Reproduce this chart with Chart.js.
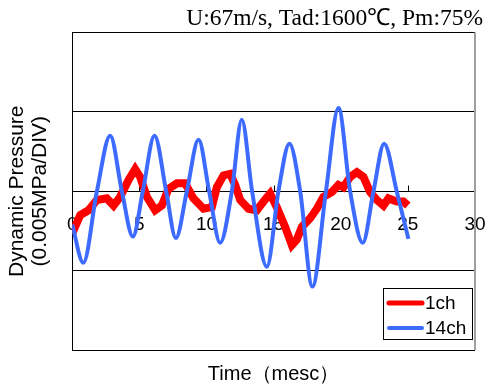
<!DOCTYPE html>
<html>
<head>
<meta charset="utf-8">
<script src="https://cdn.jsdelivr.net/npm/chart.js@4.4.1/dist/chart.umd.min.js"></script>
<style>
  body { margin: 0; background: #fff; }
  canvas { display: block; }
</style>
</head>
<body>
<canvas id="pressureChart" width="489" height="388"></canvas>
<script>
// ========== DATA (time in msec, pressure in DIV) ========== //
const chartTitle = "U:67m/s, Tad:1600\u2103, Pm:75%";
const xTitle = "Time\uFF08mesc\uFF09";
const yTitle = ["Dynamic Pressure", "(0.005MPa/DIV)"];
const seriesLabels = ["1ch", "14ch"];

const redTime = [0, 0.6, 1.21, 1.84, 2.58, 3.08, 3.57, 4.19, 4.69, 5.06, 5.56, 6.18, 6.68, 7.17, 7.8,
  8.41, 9.03, 9.78, 10.4, 10.77, 11.27, 11.76, 12.14, 12.51, 13.13, 13.75, 14.25, 14.74, 15.24,
  15.86, 16.36, 16.73, 17.1, 17.72, 18.22, 18.71, 19.34, 19.83, 20.2, 20.7, 21.2, 21.69, 22.19,
  22.69, 23.18, 23.55, 24.18, 24.67, 25.0];
const redValue = [-0.53, -0.30, -0.24, -0.11, -0.09, -0.18, -0.07, 0.14, 0.28, 0.18, -0.07, -0.24, -0.18, 0.03, 0.10,
  0.10, -0.09, -0.22, -0.20, 0.05, 0.20, 0.22, 0.08, -0.11, -0.22, -0.24, -0.13, -0.03, -0.20,
  -0.45, -0.68, -0.61, -0.45, -0.34, -0.22, -0.07, -0.01, 0.08, 0.05, 0.18, 0.24, 0.18, -0.01,
  -0.11, -0.18, -0.09, -0.13, -0.13, -0.18];

const blueTime = [0, 0.83, 1.84, 2.83, 3.7, 4.52, 5.26, 6.13, 7.0, 7.72, 8.54, 9.41, 10.2, 11.02,
  11.89, 12.63, 13.4, 14.5, 15.36, 16.18, 16.98, 17.89, 18.9, 19.83, 20.7, 21.64, 22.44, 23.23,
  24.17, 25.04];
const blueValue = [-0.42, -0.90, 0, 0.70, 0, -0.57, 0, 0.70, 0, -0.59, 0, 0.65, 0, -0.65,
  0, 0.90, 0, -0.95, 0, 0.60, 0, -1.20, 0, 1.05, 0, -0.65, 0, 0.60,
  0, -0.60];

const toPoints = (xs, ys) => xs.map((x, i) => ({ x, y: ys[i] }));

// no extra room for the edge labels, the plot runs to the frame
function noSidePadding(scale) {
  scale.paddingLeft = 0;
  scale.paddingRight = 0;
}

// ========== PLUGIN: frame, inner ticks, boxed legend ========== //
const framePlugin = {
  id: "frame",
  beforeDatasetsDraw(chart) {
    const { ctx, chartArea: a, scales } = chart;
    ctx.save();
    // right border is grey in the original
    ctx.strokeStyle = "#a0a0a0";
    ctx.lineWidth = 2;
    ctx.beginPath();
    ctx.moveTo(a.right, a.top);
    ctx.lineTo(a.right, a.bottom);
    ctx.stroke();

    // small tick marks pointing up from the zero line
    const y0 = Math.round(scales.y.getPixelForValue(0)) + 0.5;
    ctx.strokeStyle = "#000";
    ctx.lineWidth = 1;
    ctx.beginPath();
    scales.x.ticks.forEach(t => {
      if (t.value > 0 && t.value < 30) {
        const px = Math.round(scales.x.getPixelForValue(t.value)) + 0.5;
        ctx.moveTo(px, y0);
        ctx.lineTo(px, y0 - 6);
      }
    });
    ctx.stroke();
    ctx.restore();
  },
  afterDraw(chart) {
    const { ctx, chartArea: a } = chart;
    const w = 89, h = 51;
    const left = a.right - 3 - w;
    const top = a.bottom - 11 - h;
    ctx.save();
    ctx.fillStyle = "#fff";
    ctx.fillRect(left, top, w, h);
    ctx.strokeStyle = "#000";
    ctx.lineWidth = 1;
    ctx.strokeRect(Math.round(left) + 0.5, Math.round(top) + 0.5, w, h);
    ctx.font = "19px 'Liberation Sans', Arial, sans-serif";
    ctx.textBaseline = "middle";
    ctx.textAlign = "left";
    ctx.lineCap = "round";
    chart.data.datasets.forEach((ds, i) => {
      const y = top + 15 + i * 25;
      ctx.strokeStyle = ds.borderColor;
      ctx.lineWidth = i === 0 ? 5 : 4;
      ctx.beginPath();
      ctx.moveTo(left + 6, y);
      ctx.lineTo(left + 39, y);
      ctx.stroke();
      ctx.fillStyle = "#000";
      ctx.fillText(ds.label, left + 42, y + 1);
    });
    ctx.restore();
  }
};

// ========== CHART ========== //
const ctx = document.getElementById("pressureChart").getContext("2d");

new Chart(ctx, {
  type: "line",
  data: {
    datasets: [
      {
        label: seriesLabels[0],
        data: toPoints(redTime, redValue),
        borderColor: "#ff0000",
        borderWidth: 8,
        pointRadius: 0,
        tension: 0,
        order: 2
      },
      {
        label: seriesLabels[1],
        data: toPoints(blueTime, blueValue),
        borderColor: "#3d6bff",
        borderWidth: 4,
        pointRadius: 0,
        cubicInterpolationMode: "monotone",
        order: 1
      }
    ]
  },
  options: {
    responsive: false,
    animation: false,
    layout: { padding: { left: 0, right: 6, top: 0, bottom: 0 } },
    plugins: {
      legend: { display: false },
      tooltip: { enabled: false },
      title: {
        display: true,
        text: chartTitle,
        align: "end",
        color: "#000",
        font: { family: "'Liberation Serif', 'Times New Roman', serif", size: 23.5, weight: "normal", lineHeight: 1 },
        padding: { top: 7, bottom: 2 }
      }
    },
    scales: {
      x: {
        type: "linear",
        min: 0,
        max: 30,
        position: { y: 0 },
        grid: { display: false },
        border: { display: false },
        ticks: {
          stepSize: 5,
          autoSkip: false,
          maxRotation: 0,
          padding: 14,
          color: "#000",
          font: { family: "'Liberation Sans', Arial, sans-serif", size: 19 }
        },
        afterFit(scale) {
          noSidePadding(scale);
          scale.height = 0;
        }
      },
      xTitle: {
        type: "linear",
        min: 0,
        max: 30,
        position: "bottom",
        grid: { display: false, drawTicks: false },
        border: { display: false },
        ticks: { display: false },
        title: {
          display: true,
          text: xTitle,
          color: "#000",
          font: { family: "'Liberation Sans', Arial, sans-serif", size: 20, lineHeight: 1.2 },
          padding: { top: 12, bottom: 2 }
        },
        afterFit: noSidePadding
      },
      y: {
        min: -2,
        max: 2,
        position: "left",
        ticks: { display: false, stepSize: 1 },
        grid: { color: "#000", lineWidth: 1, drawTicks: false },
        border: { display: true, color: "#000", width: 1 },
        title: {
          display: true,
          text: yTitle,
          color: "#000",
          font: { family: "'Liberation Sans', Arial, sans-serif", size: 21, lineHeight: 1.1 },
          padding: { top: 6, bottom: 20 }
        }
      },
      yRight: {
        type: "linear",
        min: -2,
        max: 2,
        position: "right",
        grid: { display: false, drawTicks: false },
        border: { display: false },
        ticks: { display: false },
        afterFit(scale) { scale.width = 8; }
      }
    }
  },
  plugins: [framePlugin]
});
</script>
</body>
</html>
